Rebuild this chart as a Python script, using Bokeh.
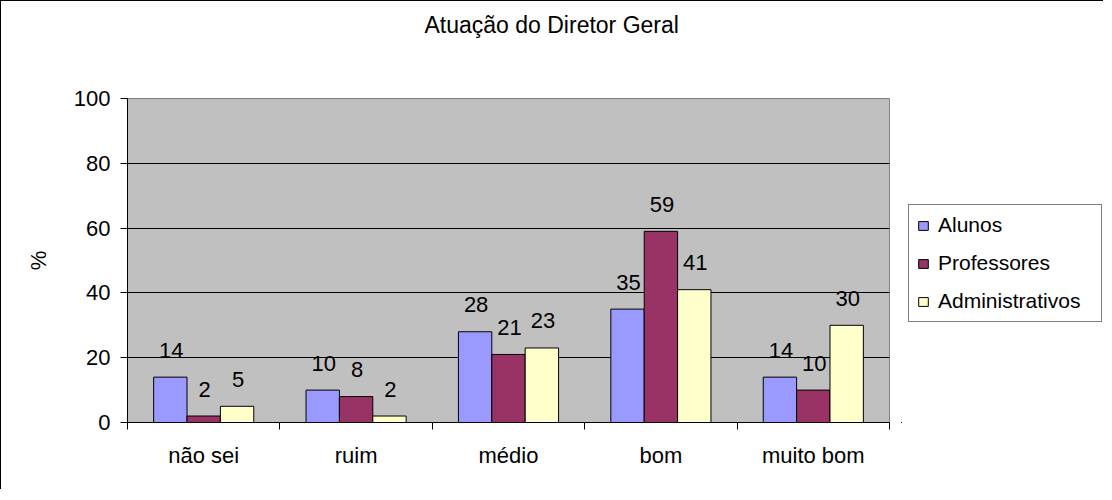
from bokeh.plotting import figure
from bokeh.layouts import row
from bokeh.models import (Range1d, FixedTicker, Title, Legend, LegendItem, ColumnDataSource)
from bokeh.core.properties import value
from bokeh.embed import file_html
from bokeh.resources import INLINE

title_text = "Atuação do Diretor Geral"
categories = ["não sei", "ruim", "médio", "bom", "muito bom"]
series_names = ["Alunos", "Professores", "Administrativos"]
alunos = [14, 10, 28, 35, 14]
professores = [2, 8, 21, 59, 10]
administrativos = [5, 2, 23, 41, 30]
colors = ["#9999FF", "#993366", "#FFFFCC"]
y_ticks = [0, 20, 40, 60, 80, 100]

FONT = "Liberation Sans"

p = figure(width=900, height=488, output_backend="svg", toolbar_location=None,
           title=None, x_range=Range1d(0, len(categories)), y_range=Range1d(0, 100),
           min_border_left=126, min_border_right=12, min_border_top=97, min_border_bottom=67)
p.background_fill_color = "#C0C0C0"
p.border_fill_color = "white"
p.outline_line_color = "#808080"

# grids
p.xgrid.visible = False
p.ygrid.ticker = FixedTicker(ticks=y_ticks)
p.ygrid.grid_line_color = "black"
p.ygrid.grid_line_width = 1

# y axis
p.yaxis.ticker = FixedTicker(ticks=y_ticks)
p.yaxis.axis_line_color = "black"
p.yaxis.major_tick_out = 7
p.yaxis.major_tick_in = 0
p.yaxis.minor_tick_line_color = None
p.yaxis.major_label_standoff = 10
p.yaxis.major_label_text_font = FONT
p.yaxis.major_label_text_font_size = "22px"
p.yaxis.major_label_text_color = "black"
p.yaxis.axis_label = "%"
p.yaxis.axis_label_text_font = FONT
p.yaxis.axis_label_text_font_size = "22px"
p.yaxis.axis_label_text_font_style = "normal"
p.yaxis.axis_label_text_color = "black"
p.yaxis.axis_label_standoff = 20

# x axis: labels at category centres, tick marks at category boundaries
centers = [i + 0.5 for i in range(len(categories))]
bounds = list(range(len(categories) + 1))
p.xaxis.ticker = FixedTicker(ticks=centers, minor_ticks=bounds)
p.xaxis.major_label_overrides = {c: lab for c, lab in zip(centers, categories)}
p.xaxis.axis_line_color = "black"
p.xaxis.major_tick_out = 0
p.xaxis.major_tick_in = 0
p.xaxis.minor_tick_out = 7
p.xaxis.minor_tick_in = 0
p.xaxis.minor_tick_line_color = "black"
p.xaxis.major_label_standoff = 13
p.xaxis.major_label_text_font = FONT
p.xaxis.major_label_text_font_size = "22px"
p.xaxis.major_label_text_color = "black"

bw = 0.219
offsets = [-bw, 0.0, bw]
series = [alunos, professores, administrativos]
sources = []
for vals, off, col in zip(series, offsets, colors):
    src = ColumnDataSource(dict(x=[c + off for c in centers], top=vals,
                                lab=[str(v) for v in vals]))
    sources.append(src)
    p.vbar(x="x", top="top", width=bw, source=src, fill_color=col,
           line_color="black", line_width=1)
    p.text(x="x", y="top", text="lab", source=src, text_align="center",
           text_baseline="alphabetic", y_offset=-27, x_offset=1,
           text_font=value(FONT), text_font_size="22px", text_color="black")

spacer = Title(text=" ", standoff=32, text_font=FONT, text_font_size="22px")
p.add_layout(spacer, "above")
title = Title(text=title_text, align="left", offset=297, standoff=4,
              text_font=FONT, text_font_size="23px", text_font_style="normal",
              text_color="black")
p.add_layout(title, "above")

# legend panel (its key renderers use the same data, kept outside the visible range)
pl = figure(width=202, height=488, output_backend="svg", toolbar_location=None,
            title=None, x_range=Range1d(100, 101), y_range=Range1d(200, 300),
            x_axis_type=None, y_axis_type=None,
            min_border_left=0, min_border_right=0, min_border_top=0, min_border_bottom=0)
pl.outline_line_color = None
pl.background_fill_color = "white"
pl.border_fill_color = "white"
pl.xgrid.visible = False
pl.ygrid.visible = False
key_renderers = []
for src, col in zip(sources, colors):
    key_renderers.append(pl.vbar(x="x", top="top", width=bw, source=src, fill_color=col,
                                 line_color="black", line_width=1))
legend = Legend(items=[LegendItem(label=n, renderers=[r]) for n, r in zip(series_names, key_renderers)],
                location=(7, 100), orientation="vertical",
                label_text_font=FONT, label_text_font_size="21px", label_text_color="black",
                glyph_width=12, glyph_height=11, label_standoff=9, label_height=20,
                label_width=155, spacing=14, padding=8, margin=0,
                border_line_color="black", border_line_width=1,
                background_fill_color="white", background_fill_alpha=1)
pl.add_layout(legend, "center")

layout = row(p, pl, spacing=0)
layout.styles = {"border-top": "1px solid black", "border-left": "1px solid black"}

open("out.html", "w").write(file_html(layout, INLINE))
